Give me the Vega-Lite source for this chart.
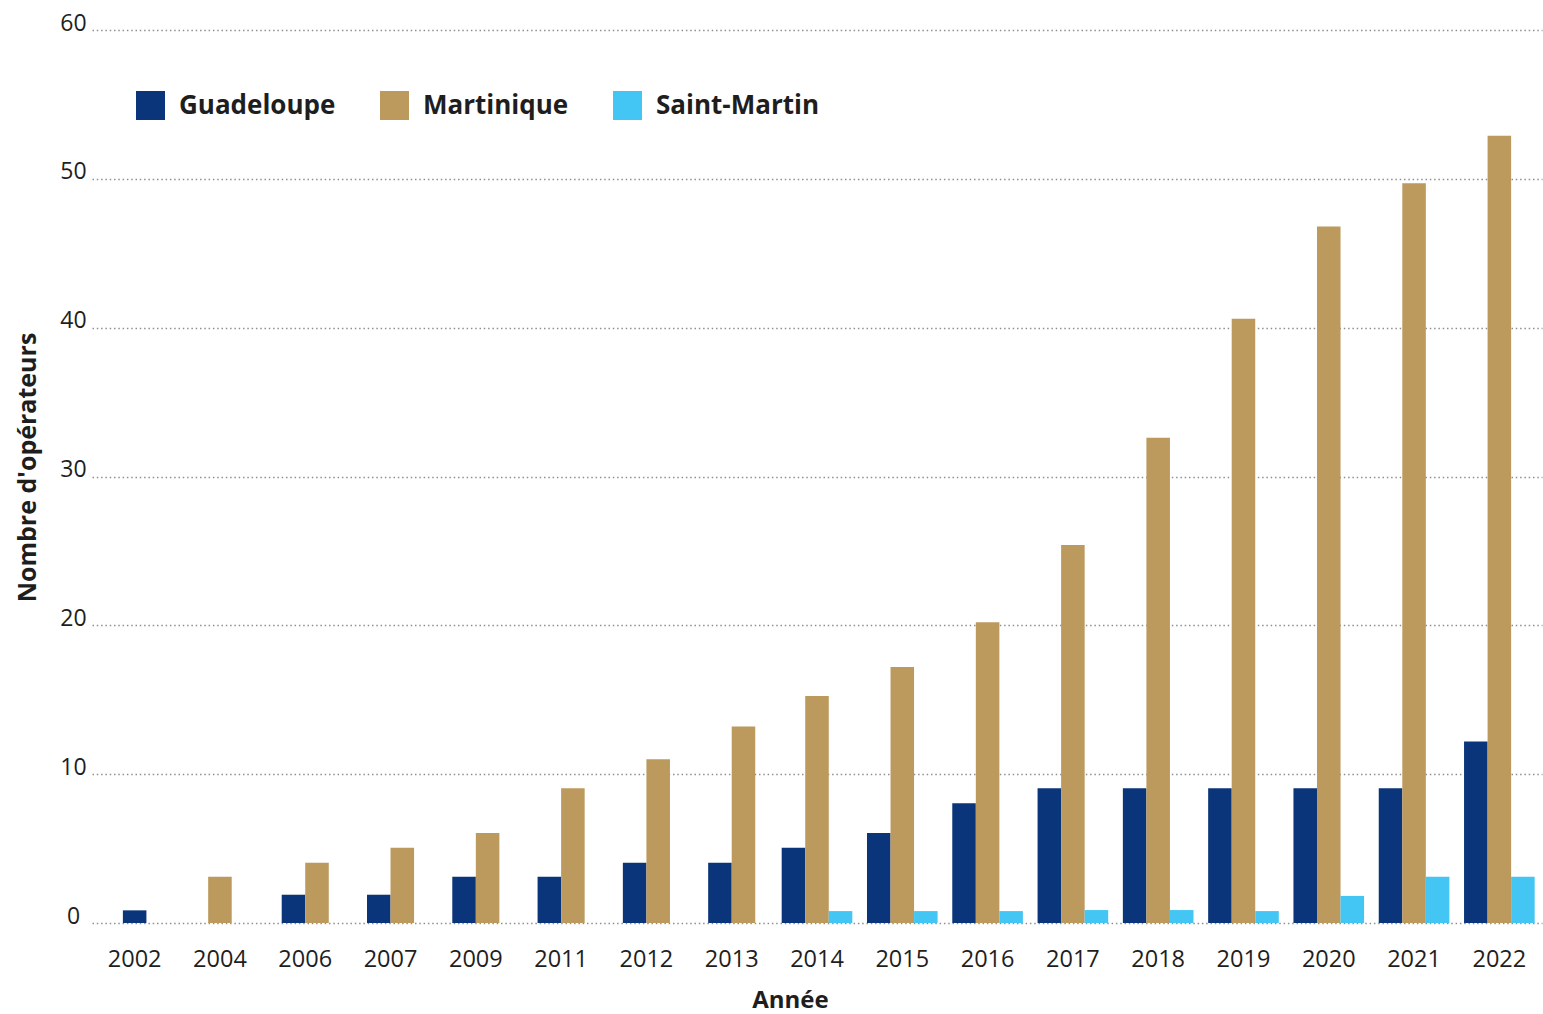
{
  "$schema": "https://vega.github.io/schema/vega-lite/v6.json",
  "width": 1450,
  "height": 893,
  "autosize": {"type": "none"},
  "padding": {"left": 92, "top": 30, "right": 1, "bottom": 91},
  "background": "white",
  "config": {
    "font": "Open Sans",
    "view": {"stroke": null},
    "bar": {"strokeWidth": 0}
  },
  "data": {
    "values": [
      {"annee": "2002", "territoire": "Guadeloupe", "valeur": 0.85},
      {"annee": "2004", "territoire": "Martinique", "valeur": 3.1},
      {"annee": "2006", "territoire": "Guadeloupe", "valeur": 1.9},
      {"annee": "2006", "territoire": "Martinique", "valeur": 4.05},
      {"annee": "2007", "territoire": "Guadeloupe", "valeur": 1.9},
      {"annee": "2007", "territoire": "Martinique", "valeur": 5.05},
      {"annee": "2009", "territoire": "Guadeloupe", "valeur": 3.1},
      {"annee": "2009", "territoire": "Martinique", "valeur": 6.05},
      {"annee": "2011", "territoire": "Guadeloupe", "valeur": 3.1},
      {"annee": "2011", "territoire": "Martinique", "valeur": 9.05},
      {"annee": "2012", "territoire": "Guadeloupe", "valeur": 4.05},
      {"annee": "2012", "territoire": "Martinique", "valeur": 11.0},
      {"annee": "2013", "territoire": "Guadeloupe", "valeur": 4.05},
      {"annee": "2013", "territoire": "Martinique", "valeur": 13.2},
      {"annee": "2014", "territoire": "Guadeloupe", "valeur": 5.05},
      {"annee": "2014", "territoire": "Martinique", "valeur": 15.25},
      {"annee": "2014", "territoire": "Saint-Martin", "valeur": 0.8},
      {"annee": "2015", "territoire": "Guadeloupe", "valeur": 6.05},
      {"annee": "2015", "territoire": "Martinique", "valeur": 17.2},
      {"annee": "2015", "territoire": "Saint-Martin", "valeur": 0.8},
      {"annee": "2016", "territoire": "Guadeloupe", "valeur": 8.05},
      {"annee": "2016", "territoire": "Martinique", "valeur": 20.2},
      {"annee": "2016", "territoire": "Saint-Martin", "valeur": 0.8},
      {"annee": "2017", "territoire": "Guadeloupe", "valeur": 9.05},
      {"annee": "2017", "territoire": "Martinique", "valeur": 25.4},
      {"annee": "2017", "territoire": "Saint-Martin", "valeur": 0.87},
      {"annee": "2018", "territoire": "Guadeloupe", "valeur": 9.05},
      {"annee": "2018", "territoire": "Martinique", "valeur": 32.6},
      {"annee": "2018", "territoire": "Saint-Martin", "valeur": 0.87},
      {"annee": "2019", "territoire": "Guadeloupe", "valeur": 9.05},
      {"annee": "2019", "territoire": "Martinique", "valeur": 40.6},
      {"annee": "2019", "territoire": "Saint-Martin", "valeur": 0.8},
      {"annee": "2020", "territoire": "Guadeloupe", "valeur": 9.05},
      {"annee": "2020", "territoire": "Martinique", "valeur": 46.8},
      {"annee": "2020", "territoire": "Saint-Martin", "valeur": 1.82},
      {"annee": "2021", "territoire": "Guadeloupe", "valeur": 9.05},
      {"annee": "2021", "territoire": "Martinique", "valeur": 49.7},
      {"annee": "2021", "territoire": "Saint-Martin", "valeur": 3.1},
      {"annee": "2022", "territoire": "Guadeloupe", "valeur": 12.2},
      {"annee": "2022", "territoire": "Martinique", "valeur": 52.9},
      {"annee": "2022", "territoire": "Saint-Martin", "valeur": 3.1}
    ]
  },
  "transform": [
    {"joinaggregate": [{"op": "count", "as": "n"}], "groupby": ["annee"]}
  ],
  "encoding": {
    "x": {
      "field": "annee",
      "type": "ordinal",
      "title": "Année",
      "scale": {"paddingInner": 0.172, "paddingOuter": 0.086},
      "axis": {
        "labelAngle": 0,
        "ticks": false,
        "domain": false,
        "grid": false,
        "labelFontSize": 23.5,
        "labelColor": "#1e1e1e",
        "labelBaseline": "alphabetic",
        "labelPadding": 43,
        "titleFontSize": 24,
        "titleFontWeight": "bold",
        "titleColor": "#1e1e1e",
        "titleAlign": "center",
        "titleBaseline": "alphabetic",
        "titleX": 698,
        "titleY": 84
      }
    },
    "y": {
      "field": "valeur",
      "type": "quantitative",
      "title": "Nombre d'opérateurs",
      "scale": {"domain": [0, 60], "nice": false},
      "axis": {
        "values": [0, 10, 20, 30, 40, 50, 60],
        "ticks": false,
        "domain": false,
        "grid": true,
        "gridColor": "#8f8f8f",
        "gridDash": [1.5, 2.8],
        "gridWidth": 1.3,
        "labelFontSize": 23,
        "labelColor": "#1e1e1e",
        "labelAlign": "center",
        "labelBaseline": "alphabetic",
        "labelPadding": 19,
        "titleFontSize": 25,
        "titleFontWeight": "bold",
        "titleColor": "#1e1e1e",
        "titleAngle": -90,
        "titleAlign": "center",
        "titleBaseline": "alphabetic",
        "titleX": -57,
        "titleY": 437
      }
    },
    "color": {
      "field": "territoire",
      "type": "nominal",
      "scale": {
        "domain": ["Guadeloupe", "Martinique", "Saint-Martin"],
        "range": ["#0b357a", "#bc995d", "#43c6f3"]
      },
      "legend": {
        "title": null,
        "orient": "none",
        "direction": "horizontal",
        "legendX": 44,
        "legendY": 61,
        "symbolType": "square",
        "symbolSize": 841,
        "symbolStrokeWidth": 0,
        "symbolOpacity": 1,
        "labelFontSize": 26,
        "labelFontWeight": "bold",
        "labelColor": "#1e1e1e",
        "labelLimit": 400,
        "labelOffset": 14,
        "columnPadding": 44
      }
    }
  },
  "layer": [
    {
      "transform": [{"filter": "datum.n == 3"}],
      "mark": "bar",
      "encoding": {
        "xOffset": {
          "field": "territoire",
          "scale": {
            "domain": ["Guadeloupe", "Martinique", "Saint-Martin"],
            "paddingInner": 0,
            "paddingOuter": 0
          }
        }
      }
    },
    {
      "transform": [{"filter": "datum.n == 2"}],
      "mark": "bar",
      "encoding": {
        "xOffset": {
          "field": "territoire",
          "scale": {
            "domain": ["Guadeloupe", "Martinique"],
            "paddingInner": 0,
            "paddingOuter": 0.5
          }
        }
      }
    },
    {
      "transform": [{"filter": "datum.n == 1"}],
      "mark": {"type": "bar", "width": {"band": 0.3333}}
    }
  ],
  "resolve": {"scale": {"xOffset": "independent"}}
}
